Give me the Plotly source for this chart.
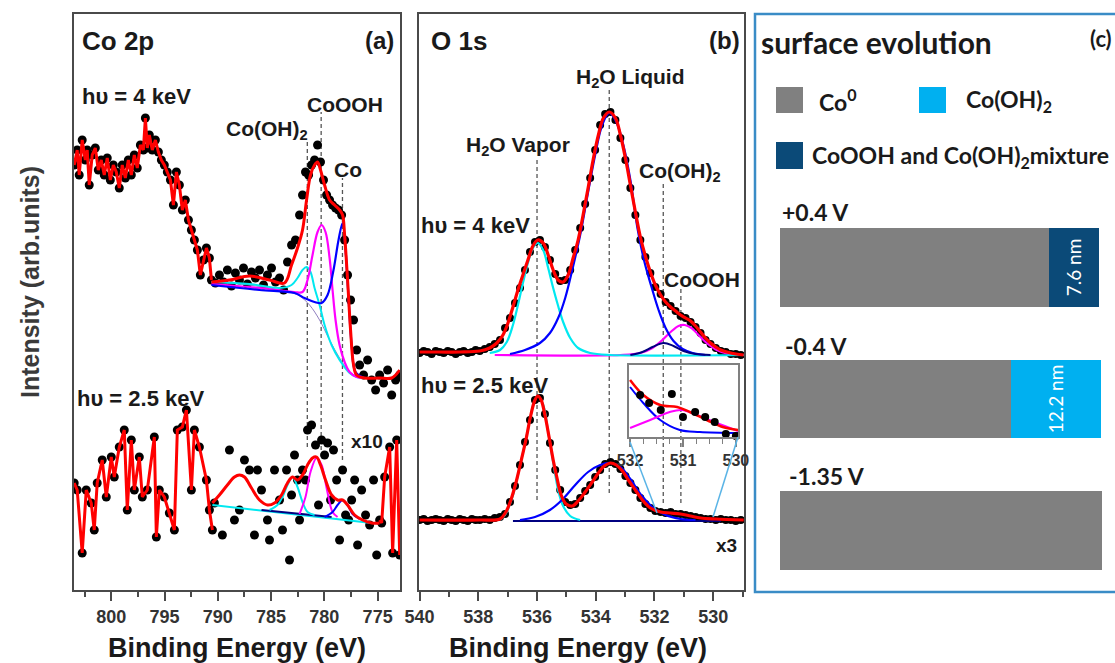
import plotly.graph_objects as go

W, H = 1115, 663

# ---------------- Panel (a): Co 2p ----------------
co_E_hi = [803.48, 803.20, 803.01, 802.73, 802.44, 802.26, 802.07, 801.79, 801.50, 801.22,
           800.94, 800.66, 800.38, 800.09, 799.81, 799.53, 799.25, 798.97, 798.68, 798.40,
           798.12, 797.84, 797.56, 797.27, 796.99, 796.80, 796.62, 796.43, 796.15, 795.86,
           795.58, 795.30, 795.02, 794.74, 794.45, 794.17, 793.89, 793.61, 793.33, 793.05,
           792.76, 792.48, 792.20, 791.92, 791.64, 791.35, 791.07, 790.79, 790.60, 790.23,
           789.85, 789.47, 789.10, 788.72, 788.35, 787.97, 787.59, 787.22, 786.84, 786.47,
           786.09, 785.71, 785.34, 784.96, 784.59, 784.21, 783.83, 783.46, 783.08, 782.71,
           782.33, 782.05, 781.77, 781.48, 781.20, 780.92, 780.64, 780.36, 780.08, 779.79,
           779.51, 779.23, 778.95, 778.67, 778.38, 778.10, 777.82, 777.54, 777.26, 776.97,
           776.69, 776.32, 775.94, 775.56, 775.19, 774.81, 774.44, 774.06, 773.68, 773.31, 772.93]
co_I_hi = [425, 440, 415, 450, 430, 440, 405, 435, 442, 420,
           430, 415, 432, 410, 425, 418, 402, 425, 412, 430,
           415, 435, 422, 445, 440, 472, 442, 455, 440, 450,
           438, 430, 425, 418, 410, 385, 418, 405, 380, 390,
           370, 360, 350, 340, 315, 330, 342, 332, 310, 307,
           315, 308, 320, 304, 317, 310, 322, 306, 318, 312,
           320, 305, 315, 322, 308, 312, 300, 328, 345, 350,
           375, 395, 418, 415, 425, 430, 445, 428, 410, 395,
           390, 385, 382, 380, 375, 350, 315, 290, 270, 240,
           225, 215, 230, 210, 200, 215, 207, 220, 195, 210, 215]

co_fitE_hi = [790.60, 788.91, 787.03, 785.15, 783.74, 783.08, 782.52, 782.05, 781.67, 781.30,
              780.92, 780.64, 780.36, 779.98, 779.51, 779.04, 778.57, 778.29, 778.10, 777.82,
              777.54, 777.26, 776.97, 776.22, 774.81, 773.68, 772.93]
co_fitI_hi = [308, 310, 314, 310, 307, 325, 342, 360, 390, 415,
              425, 428, 420, 405, 390, 385, 380, 375, 355, 310,
              260, 225, 215, 212, 212, 212, 220]
co_bgE_hi = [790.60, 787.97, 785.15, 783.27, 782.33, 781.39, 780.45, 779.51, 778.57, 777.63, 776.97, 776.22]
co_bgI_hi = [308, 306, 302, 298, 294, 285, 270, 250, 232, 218, 214, 212]
co_ohE_hi = [790.60, 787.03, 784.21, 783.08, 782.52, 782.05, 781.67, 781.30, 780.92, 780.45,
             779.98, 779.32, 778.57, 777.63, 776.97, 776.22]
co_ohI_hi = [308, 306, 302, 305, 312, 320, 323, 318, 302, 285, 265, 245, 230, 217, 213, 212]
co_oohE_hi = [790.60, 786.09, 782.80, 782.05, 781.58, 781.11, 780.64, 780.26, 779.89, 779.51,
              779.23, 778.95, 778.57, 778.10, 777.63, 776.97, 776.22]
co_oohI_hi = [306, 302, 298, 298, 310, 335, 358, 365, 358, 332, 300, 270, 245, 228, 218, 213, 212]
co_metE_hi = [790.60, 786.09, 782.80, 781.86, 780.92, 780.26, 779.70, 779.14, 778.67, 778.29,
              778.01, 777.72, 777.44, 777.07, 776.22]
co_metI_hi = [305, 300, 297, 292, 288, 287, 295, 320, 350, 367, 340, 290, 245, 218, 212]

co_E_lo = [803.48, 803.20, 802.73, 802.35, 801.88, 801.60, 801.32, 800.85, 800.47, 800.00,
           799.72, 799.25, 798.78, 798.50, 798.12, 797.84, 797.37, 797.09, 796.62, 795.96,
           795.77, 795.49, 795.02, 794.55, 794.08, 793.80, 793.33, 792.95, 792.48, 792.20,
           791.73, 791.07, 790.79, 790.51,
           790.32, 789.57, 788.91, 788.44, 787.97, 787.50, 787.03, 786.56, 786.28, 785.90,
           785.34, 785.15, 784.68, 784.21, 783.93, 783.55, 783.27, 783.08, 782.80, 782.52,
           782.33, 782.05, 781.77, 781.58, 781.20, 780.83, 780.55, 780.26, 779.98, 779.70,
           779.42, 779.14, 778.85, 778.57, 778.29, 778.01, 777.72, 777.44, 777.16, 776.88,
           776.50, 776.13, 775.75, 775.38, 775.09,
           774.81, 774.62, 774.34, 773.87, 773.59, 773.21, 772.93]
co_I_lo = [107, 100, 37, 100, 87, 60, 107, 130, 93, 133,
           113, 143, 160, 80, 150, 100, 133, 93, 100, 153,
           53, 100, 93, 77, 60, 160, 163, 180, 100, 160,
           143, 110, 80, 60,
           87, 55, 140, 70, 80, 130, 120, 55, 120, 100,
           70, 50, 120, 90, 60, 120, 30, 95, 135, 110,
           70, 120, 110, 160, 165, 145, 85, 150, 135, 147,
           90, 140, 110, 50, 120, 75, 70, 90, 110, 45,
           100, 75, 65, 110, 35,
           70, 67, 113, 143, 37, 150, 35]
co_fitE_lo = [790.51, 789.85, 789.10, 788.44, 787.97, 787.50, 786.84, 786.09, 785.34, 784.68,
              784.02, 783.46, 782.99, 782.52, 782.05, 781.58, 781.11, 780.73, 780.36, 779.89,
              779.32, 778.76, 778.29, 777.82, 777.16, 776.41, 775.56, 774.81]
co_fitI_lo = [87, 95, 105, 113, 115, 113, 102, 90, 85, 87,
              95, 107, 113, 110, 115, 125, 132, 133, 125, 110,
              95, 90, 90, 85, 75, 70, 67, 67]
co_bgE_lo = [790.51, 775.56]
co_bgI_lo = [85, 67]
co_bg2E_lo = [785.90, 779.32]
co_bg2I_lo = [80, 73]
co_ohE_lo = [785.15, 784.40, 783.93, 783.46, 782.99, 782.52, 782.05, 781.58, 780.92]
co_ohI_lo = [80, 85, 93, 105, 113, 103, 88, 78, 75]
co_oohE_lo = [782.33, 781.77, 781.30, 780.73, 780.26, 779.79, 779.23, 778.76]
co_oohI_lo = [76, 93, 118, 132, 125, 102, 78, 73]
co_metE_lo = [779.98, 779.23, 778.76, 778.29, 777.82, 777.35, 776.69]
co_metI_lo = [73, 78, 85, 90, 85, 76, 71]

co_peak_E = [781.6, 780.3, 778.3]

# ---------------- Panel (b): O 1s ----------------
o_E = [540.00, 539.86, 539.73, 539.59, 539.45, 539.32, 539.18, 539.04, 538.91, 538.77,
       538.63, 538.50, 538.36, 538.22, 538.09, 537.95, 537.78, 537.61, 537.44, 537.26,
       537.09, 536.92, 536.75, 536.58, 536.41, 536.24, 536.07, 535.90, 535.73, 535.56,
       535.38, 535.21, 535.04, 534.87, 534.70, 534.53, 534.36, 534.19, 534.02, 533.85,
       533.68, 533.50, 533.33, 533.16, 532.99, 532.82, 532.65, 532.48, 532.31, 532.14,
       531.97, 531.79, 531.62, 531.45, 531.28, 531.11, 530.94, 530.77, 530.60, 530.43,
       530.26, 530.09, 529.91, 529.74, 529.57, 529.40, 529.23, 529.06]
o_I_hi = [237, 239, 238, 236, 239, 238, 237, 239, 238, 236,
          238, 239, 237, 238, 240, 239, 241, 243, 246, 250,
          262, 272, 287, 302, 320, 338, 348, 350, 343, 330,
          316, 309, 310, 320, 340, 362, 386, 412, 440, 465,
          476, 478, 470, 452, 430, 402, 375, 350, 333, 317,
          303, 296, 288, 284, 279, 274, 272, 268, 263, 257,
          250, 246, 242, 239, 238, 236, 236, 235]
o_I_lo = [70, 71, 69, 70, 71, 70, 69, 71, 70, 69,
          71, 70, 69, 71, 70, 70, 71, 70, 72, 73,
          76, 88, 104, 125, 148, 170, 190, 192, 176, 147,
          120, 100, 88, 85, 86, 92, 99, 105, 113, 120,
          126, 128, 126, 121, 114, 107, 100, 92, 86, 82,
          79, 78, 77, 78, 76, 76, 75, 74, 73, 72,
          71, 71, 70, 71, 70, 70, 69, 70]

o_fitE_hi = [540.00, 539.32, 538.63, 537.95, 537.61, 537.37, 537.16, 536.99, 536.82, 536.65,
             536.48, 536.31, 536.14, 535.97, 535.79, 535.62, 535.45, 535.28, 535.11, 534.94,
             534.77, 534.60, 534.43, 534.26, 534.09, 533.91, 533.74, 533.54, 533.33, 533.16,
             532.99, 532.82, 532.65, 532.48, 532.31, 532.14, 531.97, 531.79, 531.62, 531.45,
             531.28, 531.11, 530.94, 530.77, 530.60, 530.43, 530.26, 530.09, 529.91, 529.74,
             529.40, 528.96]
o_fitI_hi = [238, 238, 238, 239, 242, 247, 255, 267, 283, 300,
             315, 330, 344, 350, 347, 335, 320, 310, 308, 315,
             332, 350, 375, 402, 430, 455, 472, 478, 472, 455,
             432, 405, 378, 353, 334, 318, 305, 295, 288, 283,
             279, 275, 272, 269, 264, 258, 252, 247, 243, 240,
             237, 235]
o_vapE_hi = [537.61, 537.26, 537.03, 536.82, 536.65, 536.48, 536.31, 536.14, 535.97, 535.79,
             535.62, 535.45, 535.28, 535.11, 534.87, 534.60, 534.19, 533.50, 528.96]
o_vapI_hi = [237, 240, 248, 265, 285, 307, 327, 342, 347, 340,
             322, 302, 284, 268, 252, 242, 237, 235, 235]
o_liqE_hi = [536.92, 536.41, 535.90, 535.56, 535.28, 535.04, 534.80, 534.53, 534.26, 534.02,
             533.78, 533.54, 533.30, 533.06, 532.82, 532.58, 532.34, 532.10, 531.86, 531.62,
             531.35, 531.04, 530.70, 530.26]
o_liqI_hi = [236, 240, 247, 257, 272, 292, 320, 355, 398, 435,
             465, 477, 468, 445, 410, 362, 328, 303, 280, 262,
             249, 241, 237, 235]
o_ohE_hi = [532.82, 532.41, 532.07, 531.69, 531.35, 531.01, 530.60, 530.09]
o_ohI_hi = [235, 238, 243, 247, 244, 239, 236, 235]
o_oohE_hi = [537.44, 533.16, 532.48, 532.07, 531.73, 531.45, 531.18, 530.97, 530.74, 530.50,
             530.22, 529.88, 529.47, 528.96]
o_oohI_hi = [235, 235, 237, 242, 250, 258, 264, 265, 262, 255, 247, 240, 236, 235]

o_fitE_lo = [540.00, 537.95, 537.26, 537.06, 536.89, 536.72, 536.55, 536.38, 536.21, 536.07,
             535.97, 535.86, 535.73, 535.59, 535.45, 535.32, 535.18, 535.01, 534.80, 534.60,
             534.36, 534.12, 533.91, 533.71, 533.50, 533.30, 533.09, 532.89, 532.65, 532.41,
             532.14, 531.79, 531.45, 531.11, 530.77, 530.43, 529.91, 528.96]
o_fitI_lo = [70, 70, 71, 78, 90, 107, 128, 150, 175, 190,
             194, 190, 175, 153, 130, 112, 95, 86, 84, 89,
             98, 108, 117, 124, 127, 125, 119, 110, 100, 90,
             82, 78, 77, 76, 74, 72, 71, 70]
o_vapE_lo = [537.26, 537.09, 536.85, 536.58, 536.31, 536.10, 535.97, 535.79, 535.62, 535.45,
             535.28, 535.11, 534.87, 534.53]
o_vapI_lo = [70, 75, 92, 124, 160, 188, 194, 185, 158, 128, 100, 84, 74, 70]
o_liqE_lo = [536.58, 536.07, 535.56, 535.15, 534.70, 534.26, 533.85, 533.50, 533.16, 532.82,
             532.48, 532.07, 531.62, 531.11, 530.60]
o_liqI_lo = [70, 73, 80, 90, 105, 118, 125, 127, 123, 111, 96, 83, 75, 71, 70]
o_bgE_lo = [536.82, 529.74]
o_bgI_lo = [69, 69]

o_peak_E = [536.0, 533.54, 531.7, 531.1]

# inset (x3 magnified 532-530 eV region)
ins_fitE = [532.00, 531.75, 531.43, 531.11, 530.87, 530.55, 530.25, 529.96]
ins_fitI = [57, 42, 32, 30, 25, 17, 10, 7]
ins_liqE = [532.00, 531.75, 531.43, 531.06, 530.68, 529.96]
ins_liqI = [50, 34, 17, 7, 5, 4]
ins_oohE = [532.00, 531.62, 531.25, 531.02, 530.74, 530.36, 529.96]
ins_oohI = [9, 17, 25, 27, 22, 14, 6]
ins_dotE = [531.81, 531.64, 531.42, 531.21, 531.00, 530.77, 530.58, 530.40, 530.19, 530.00]
ins_dotI = [42, 34, 27, 43, 20, 25, 20, 15, 3, 1]

# ---------------- Panel (c): surface evolution ----------------
conditions = ["+0.4 V", "-0.4 V", "-1.35 V"]
co_metal = [83.5, 71.7, 100.0]
layer = [15.5, 28.0, 0.0]
layer_labels = ["7.6 nm", "12.2 nm", ""]
layer_colors = ["#0b4a78", "#00b0f0", "#0b4a78"]

RED, CYAN, MAG, BLUE, NAVY = "#ff0000", "#00e8f0", "#ff00ff", "#0000ff", "#000080"
FONT = "Liberation Sans"


def P(x):
    return x / W


def Q(y):
    return 1 - y / H


fig = go.Figure()


def line(x, y, color, width, ax="", shape="spline", **kw):
    fig.add_trace(go.Scatter(x=x, y=y, mode="lines", line=dict(color=color, width=width, shape=shape),
                             xaxis="x" + ax, yaxis="y" + ax, hoverinfo="skip", **kw))


def dots(x, y, size, ax="", **kw):
    fig.add_trace(go.Scatter(x=x, y=y, mode="markers", marker=dict(color="black", size=size),
                             xaxis="x" + ax, yaxis="y" + ax, hoverinfo="skip", **kw))


# ----- (a) upper -----
dots(co_E_hi, co_I_hi, 9)
line(co_bgE_hi, co_bgI_hi, "#9080c0", 1)
line(co_ohE_hi, co_ohI_hi, CYAN, 2)
line(co_oohE_hi, co_oohI_hi, MAG, 2.2)
line(co_metE_hi, co_metI_hi, BLUE, 2.2)
left_hi = [(e, i) for e, i in zip(co_E_hi, co_I_hi) if e >= co_fitE_hi[0]]
line([p[0] for p in left_hi], [p[1] for p in left_hi], RED, 3, shape="linear")
line(co_fitE_hi, co_fitI_hi, RED, 3)

# ----- (a) lower -----
dots(co_E_lo, co_I_lo, 9)
line(co_bgE_lo, co_bgI_lo, CYAN, 2, shape="linear")
line(co_bg2E_lo, co_bg2I_lo, NAVY, 2, shape="linear")
line(co_ohE_lo, co_ohI_lo, CYAN, 2)
line(co_oohE_lo, co_oohI_lo, MAG, 2)
line(co_metE_lo, co_metI_lo, BLUE, 2)
left_lo = [(e, i) for e, i in zip(co_E_lo, co_I_lo) if e >= co_fitE_lo[0]]
tail_lo = [(e, i) for e, i in zip(co_E_lo, co_I_lo) if e <= co_fitE_lo[-1]]
line([p[0] for p in left_lo], [p[1] for p in left_lo], RED, 3, shape="linear")
line(co_fitE_lo, co_fitI_lo, RED, 3)
line([p[0] for p in tail_lo], [p[1] for p in tail_lo], RED, 3, shape="linear")

# ----- (b) upper -----
dots(o_E, o_I_hi, 8, ax="2")
line(o_oohE_hi, o_oohI_hi, MAG, 2.2, ax="2")
line(o_vapE_hi, o_vapI_hi, CYAN, 2.2, ax="2")
line(o_liqE_hi, o_liqI_hi, BLUE, 2.2, ax="2")
line(o_ohE_hi, o_ohI_hi, NAVY, 2, ax="2")
line(o_fitE_hi, o_fitI_hi, RED, 3.2, ax="2")

# ----- (b) lower -----
dots(o_E, o_I_lo, 8, ax="2")
line(o_bgE_lo, o_bgI_lo, NAVY, 2, ax="2", shape="linear")
line(o_vapE_lo, o_vapI_lo, CYAN, 2.2, ax="2")
line(o_liqE_lo, o_liqI_lo, BLUE, 2.2, ax="2")
line(o_fitE_lo, o_fitI_lo, RED, 3.2, ax="2")

# ----- inset -----
line(ins_liqE, ins_liqI, BLUE, 2, ax="4")
line(ins_oohE, ins_oohI, MAG, 2, ax="4")
line(ins_fitE, ins_fitI, RED, 2.5, ax="4")
dots(ins_dotE, ins_dotI, 8, ax="4", cliponaxis=False)

# ----- (c) bars -----
fig.add_trace(go.Bar(y=conditions, x=co_metal, orientation="h", marker=dict(color="#808080", line=dict(width=0)),
                     width=0.6, xaxis="x3", yaxis="y3", hoverinfo="skip"))
fig.add_trace(go.Bar(y=conditions, x=layer, orientation="h", marker=dict(color=layer_colors, line=dict(width=0)),
                     width=0.6, xaxis="x3", yaxis="y3", text=layer_labels, textposition="inside",
                     insidetextanchor="middle", textangle=-90,
                     textfont=dict(family="Lato", size=19, color="white"), hoverinfo="skip"))

FRAME = "#4a4a4a"
axis_x = dict(showline=True, linecolor=FRAME, linewidth=2, mirror=True, ticks="outside", ticklen=9,
              tickwidth=2, tickcolor=FRAME, showgrid=False, zeroline=False, automargin=False,
              tickfont=dict(family=FONT, size=18, color="#333", weight="bold"))
axis_y = dict(showline=True, linecolor=FRAME, linewidth=2, mirror=True, ticks="", showticklabels=False,
              showgrid=False, zeroline=False, range=[0, 576], domain=[Q(590), Q(14)], automargin=False)

fig.update_layout(
    width=W, height=H, margin=dict(l=0, r=0, t=0, b=0, pad=0, autoexpand=False),
    paper_bgcolor="white", plot_bgcolor="rgba(0,0,0,0)", showlegend=False, barmode="stack",
    xaxis=dict(axis_x, domain=[P(74), P(400)], range=[803.5, 772.9], tick0=775, dtick=5,
               minor=dict(ticks="outside", ticklen=5, tickwidth=1.5, tickcolor=FRAME, dtick=2.5, tick0=775)),
    yaxis=dict(axis_y, anchor="x"),
    xaxis2=dict(axis_x, domain=[P(419), P(744)], range=[540.02, 528.95], tick0=530, dtick=2, anchor="y2",
                minor=dict(ticks="outside", ticklen=5, tickwidth=1.5, tickcolor=FRAME, dtick=1, tick0=530)),
    yaxis2=dict(axis_y, anchor="x2"),
    xaxis3=dict(domain=[P(780), P(1102)], range=[0, 100], visible=False, anchor="y3", automargin=False),
    yaxis3=dict(domain=[Q(596.25), Q(201.75)], type="category", categoryorder="array", automargin=False,
                categoryarray=conditions, range=[2.5, -0.5], visible=False, anchor="x3"),
    xaxis4=dict(domain=[P(629), P(738)], range=[532.02, 529.96], anchor="y4", showline=True,
                linecolor="#808080", linewidth=1.5, mirror=True, ticks="outside", ticklen=8, tickwidth=1.5,
                tickcolor="#808080", tickvals=[532, 531, 530], showgrid=False, zeroline=False, automargin=False,
                tickfont=dict(family=FONT, size=16, color="#333", weight="bold"),
                minor=dict(ticks="outside", ticklen=5, tickwidth=1.2, tickcolor="#808080", dtick=0.25, tick0=530)),
    yaxis4=dict(domain=[Q(437), Q(365)], range=[0, 72], anchor="x4", showline=True, linecolor="#808080",
                linewidth=1.5, mirror=True, ticks="", showticklabels=False, showgrid=False, zeroline=False,
                automargin=False),
)

shapes = []
DASH = dict(color="#555", width=1.3, dash="4px,3px")
for e, top, bot in zip(co_peak_E, [450, 478, 412], [143, 140, 130]):
    shapes.append(dict(type="line", xref="x", yref="y", x0=e, x1=e, y0=bot, y1=top, line=DASH, layer="below"))
for e, top, bot in zip(o_peak_E, [430, 502, 407, 302], [90, 97, 87, 87]):
    shapes.append(dict(type="line", xref="x2", yref="y2", x0=e, x1=e, y0=bot, y1=top, line=DASH, layer="below"))
# inset connector lines
for (x0, y0, x1, y1) in [(630, 442, 657, 513), (738, 437, 713, 517)]:
    shapes.append(dict(type="line", xref="paper", yref="paper", x0=P(x0), y0=Q(y0), x1=P(x1), y1=Q(y1),
                       line=dict(color="#5ab4e6", width=1.5)))
# panel (c) frame
shapes.append(dict(type="rect", xref="paper", yref="paper", x0=P(755), x1=P(1130), y0=Q(592), y1=Q(14),
                   line=dict(color="#3a8cc6", width=2.5)))
# legend swatches
for (x0, y0, x1, y1, c) in [(776, 87, 803, 113, "#808080"), (919, 87, 946, 113, "#00b0f0"),
                            (776, 142, 803, 169, "#0b4a78")]:
    shapes.append(dict(type="rect", xref="paper", yref="paper", x0=P(x0), x1=P(x1), y0=Q(y1), y1=Q(y0),
                       fillcolor=c, line=dict(width=0)))
fig.update_layout(shapes=shapes)


def ann(text, x, y, size, xanchor="left", bold=True, family=FONT, color="#1a1a1a", angle=0):
    return dict(text=text, x=P(x), y=Q(y), xref="paper", yref="paper", xanchor=xanchor, yanchor="middle",
                showarrow=False, textangle=angle, borderpad=0,
                font=dict(family=family, size=size, color=color, weight="bold" if bold else "normal"))


annotations = [
    ann("Co 2p", 81, 41, 26), ann("(a)", 395, 40, 24, xanchor="right"),
    ann("hυ = 4 keV", 81, 96, 22), ann("CoOOH", 306, 104, 21),
    ann("Co(OH)<sub>2</sub>", 225, 130, 21), ann("Co", 333, 170, 21),
    ann("hυ = 2.5 keV", 76, 398, 22), ann("x10", 350, 441, 19),
    ann("O 1s", 430, 41, 26), ann("(b)", 741, 40, 24, xanchor="right"),
    ann("H<sub>2</sub>O Liquid", 575, 78, 21), ann("H<sub>2</sub>O Vapor", 465, 146, 21),
    ann("Co(OH)<sub>2</sub>", 638, 172, 21), ann("hυ = 4 keV", 420, 225, 22),
    ann("CoOOH", 663, 279, 21), ann("hυ = 2.5 keV", 420, 385, 22), ann("x3", 715, 545, 19),
    ann("Binding Energy (eV)", 237, 648, 27, xanchor="center"),
    ann("Binding Energy (eV)", 578, 648, 27, xanchor="center"),
    ann("Intensity (arb.units)", 30, 282, 25, xanchor="center", bold=True, color="#3a3a3a", angle=-90),
    ann("surface evolution", 760, 42, 30, family="Lato"),
    ann("(c)", 1113, 38, 22, xanchor="right", family="Lato"),
    ann("Co<sup>0</sup>", 818, 100, 23, family="Lato"),
    ann("Co(OH)<sub>2</sub>", 965, 100, 23, family="Lato"),
    ann("CoOOH and Co(OH)<sub>2</sub>mixture", 811, 156, 23, family="Lato"),
    ann("+0.4 V", 781, 212, 23, family="Lato"),
    ann("-0.4 V", 784, 346, 23, family="Lato"),
    ann("-1.35 V", 788, 476, 23, family="Lato"),
]
fig.update_layout(annotations=annotations)

fig.write_html("out.html")
